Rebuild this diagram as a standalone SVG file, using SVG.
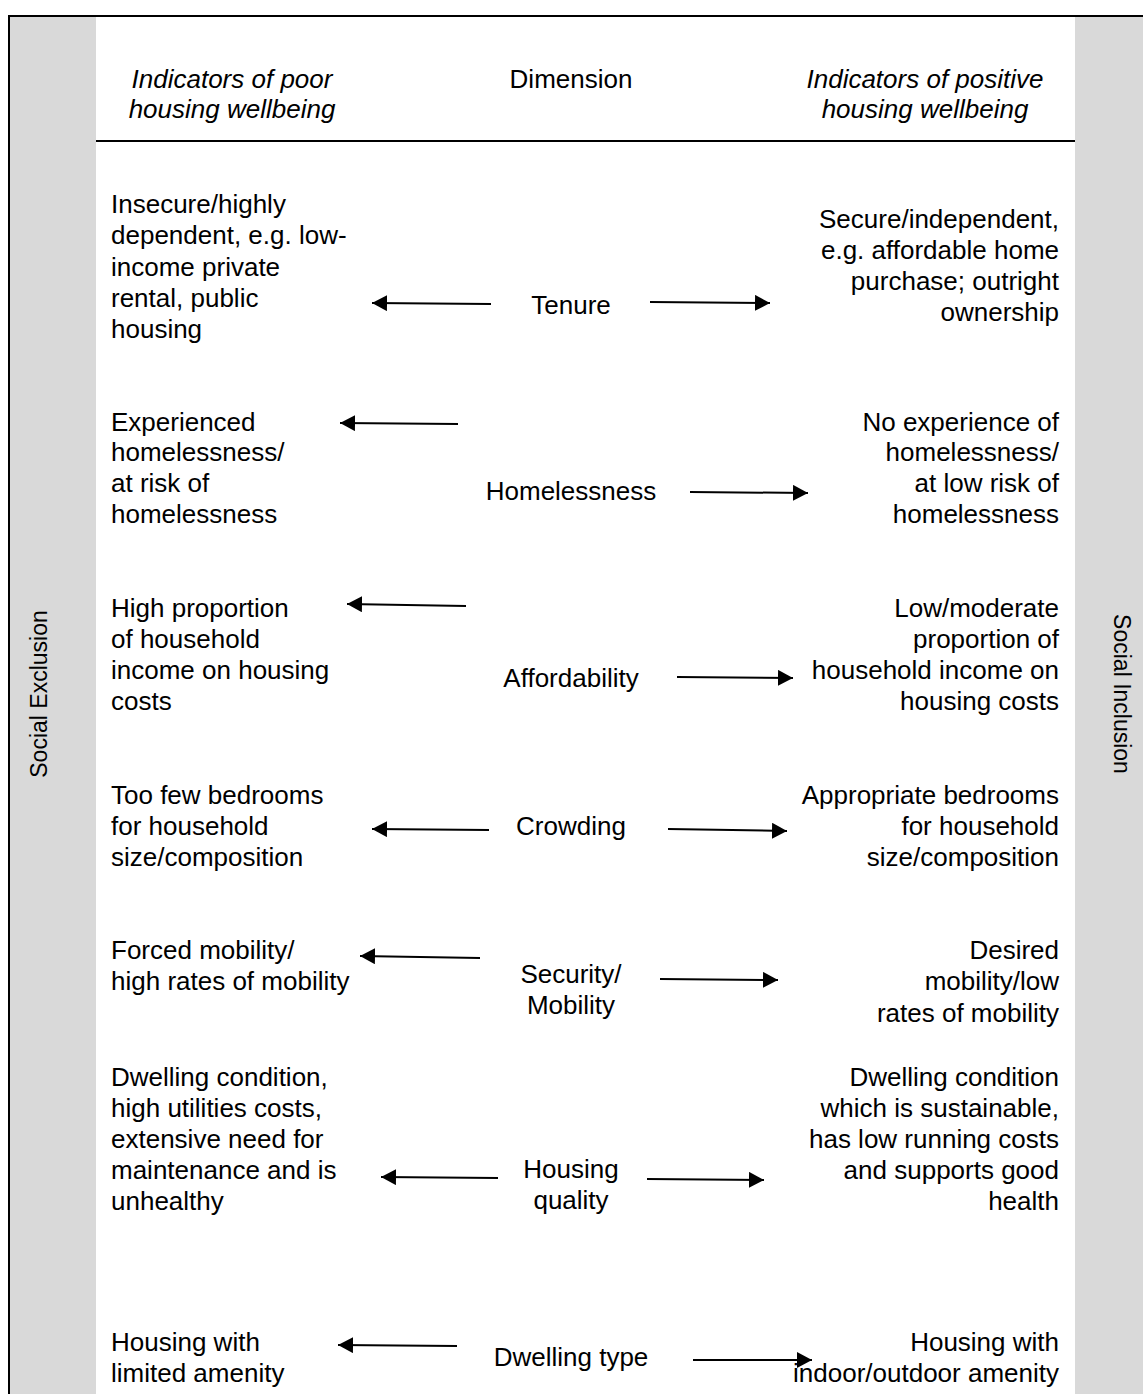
<svg xmlns="http://www.w3.org/2000/svg" width="1143" height="1394" viewBox="0 0 1143 1394">
<style>
text{font-family:"Liberation Sans",Arial,sans-serif;font-size:26px;fill:#000}
.hi{font-style:italic}
.l{text-anchor:start}
.r{text-anchor:end}
.c{text-anchor:middle}
.side{font-size:23px;text-anchor:middle}
.arr{stroke:#000;stroke-width:2;fill:none;marker-end:url(#ah)}
</style>
<defs>
<marker id="ah" viewBox="0 0 15 16" refX="15" refY="8" markerWidth="15" markerHeight="16" markerUnits="userSpaceOnUse" orient="auto">
<path d="M0,0 L15,8 L0,16 z" fill="#000"/>
</marker>
</defs>
<rect x="0" y="0" width="1143" height="1394" fill="#fff"/>
<g id="frame">
<rect x="10" y="17" width="86" height="1377" fill="#d9d9d9"/>
<rect x="1075" y="17" width="68" height="1377" fill="#d9d9d9"/>
<line x1="9" y1="16" x2="1143" y2="16" stroke="#000" stroke-width="2"/>
<line x1="9" y1="15" x2="9" y2="1394" stroke="#000" stroke-width="2"/>
<line x1="96" y1="141" x2="1075" y2="141" stroke="#000" stroke-width="2"/>
</g>
<g id="side-exclusion"><text class="side" transform="translate(47,694) rotate(-90)">Social Exclusion</text></g>
<g id="side-inclusion"><text class="side" transform="translate(1114,694) rotate(90)">Social Inclusion</text></g>
<g id="header">
<text class="hi c" x="232" y="88">Indicators of poor</text>
<text class="hi c" x="232" y="118">housing wellbeing</text>
<text class="c" x="571" y="88">Dimension</text>
<text class="hi c" x="925" y="88">Indicators of positive</text>
<text class="hi c" x="925" y="118">housing wellbeing</text>
</g>
<g id="row-tenure">
<text class="l" x="111" y="213">Insecure/highly</text>
<text class="l" x="111" y="244">dependent, e.g. low-</text>
<text class="l" x="111" y="276">income private</text>
<text class="l" x="111" y="307">rental, public</text>
<text class="l" x="111" y="338">housing</text>
<text class="c" x="571" y="314">Tenure</text>
<text class="r" x="1059" y="228">Secure/independent,</text>
<text class="r" x="1059" y="259">e.g. affordable home</text>
<text class="r" x="1059" y="290">purchase; outright</text>
<text class="r" x="1059" y="321">ownership</text>
</g>
<g id="row-homelessness">
<text class="l" x="111" y="431">Experienced</text>
<text class="l" x="111" y="461">homelessness/</text>
<text class="l" x="111" y="492">at risk of</text>
<text class="l" x="111" y="523">homelessness</text>
<text class="c" x="571" y="500">Homelessness</text>
<text class="r" x="1059" y="431">No experience of</text>
<text class="r" x="1059" y="461">homelessness/</text>
<text class="r" x="1059" y="492">at low risk of</text>
<text class="r" x="1059" y="523">homelessness</text>
</g>
<g id="row-affordability">
<text class="l" x="111" y="617">High proportion</text>
<text class="l" x="111" y="648">of household</text>
<text class="l" x="111" y="679">income on housing</text>
<text class="l" x="111" y="710">costs</text>
<text class="c" x="571" y="687">Affordability</text>
<text class="r" x="1059" y="617">Low/moderate</text>
<text class="r" x="1059" y="648">proportion of</text>
<text class="r" x="1059" y="679">household income on</text>
<text class="r" x="1059" y="710">housing costs</text>
</g>
<g id="row-crowding">
<text class="l" x="111" y="804">Too few bedrooms</text>
<text class="l" x="111" y="835">for household</text>
<text class="l" x="111" y="866">size/composition</text>
<text class="c" x="571" y="835">Crowding</text>
<text class="r" x="1059" y="804">Appropriate bedrooms</text>
<text class="r" x="1059" y="835">for household</text>
<text class="r" x="1059" y="866">size/composition</text>
</g>
<g id="row-mobility">
<text class="l" x="111" y="959">Forced mobility/</text>
<text class="l" x="111" y="990">high rates of mobility</text>
<text class="c" x="571" y="983">Security/</text>
<text class="c" x="571" y="1014">Mobility</text>
<text class="r" x="1059" y="959">Desired</text>
<text class="r" x="1059" y="990">mobility/low</text>
<text class="r" x="1059" y="1022">rates of mobility</text>
</g>
<g id="row-quality">
<text class="l" x="111" y="1086">Dwelling condition,</text>
<text class="l" x="111" y="1117">high utilities costs,</text>
<text class="l" x="111" y="1148">extensive need for</text>
<text class="l" x="111" y="1179">maintenance and is</text>
<text class="l" x="111" y="1210">unhealthy</text>
<text class="c" x="571" y="1178">Housing</text>
<text class="c" x="571" y="1209">quality</text>
<text class="r" x="1059" y="1086">Dwelling condition</text>
<text class="r" x="1059" y="1117">which is sustainable,</text>
<text class="r" x="1059" y="1148">has low running costs</text>
<text class="r" x="1059" y="1179">and supports good</text>
<text class="r" x="1059" y="1210">health</text>
</g>
<g id="row-dwelling">
<text class="l" x="111" y="1351">Housing with</text>
<text class="l" x="111" y="1382">limited amenity</text>
<text class="c" x="571" y="1366">Dwelling type</text>
<text class="r" x="1059" y="1351">Housing with</text>
<text class="r" x="1059" y="1382">indoor/outdoor amenity</text>
</g>
<g id="connectors">
<line class="arr" x1="491" y1="304" x2="372" y2="303"/>
<line class="arr" x1="650" y1="302" x2="770" y2="303"/>
<line class="arr" x1="458" y1="424" x2="340" y2="423"/>
<line class="arr" x1="690" y1="492" x2="808" y2="493"/>
<line class="arr" x1="466" y1="606" x2="347" y2="604"/>
<line class="arr" x1="677" y1="677" x2="793" y2="678"/>
<line class="arr" x1="489" y1="830" x2="372" y2="829"/>
<line class="arr" x1="668" y1="829" x2="787" y2="831"/>
<line class="arr" x1="480" y1="958" x2="360" y2="956"/>
<line class="arr" x1="660" y1="979" x2="778" y2="980"/>
<line class="arr" x1="498" y1="1178" x2="381" y2="1177"/>
<line class="arr" x1="647" y1="1179" x2="764" y2="1180"/>
<line class="arr" x1="457" y1="1346" x2="338" y2="1345"/>
<line class="arr" x1="693" y1="1360" x2="812" y2="1360"/>
</g>
</svg>
